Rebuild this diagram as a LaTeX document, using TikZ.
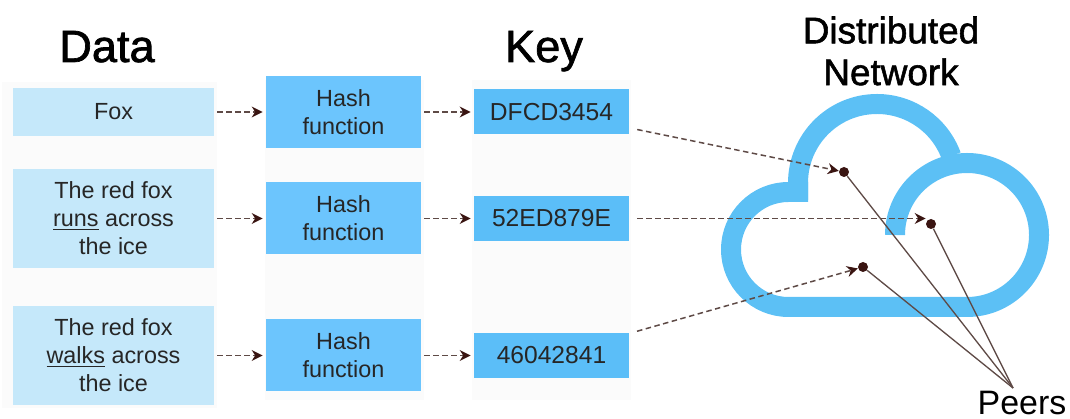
\documentclass[tikz,border=0pt]{standalone}
\usepackage{fontspec}
\setmainfont{Liberation Sans}
\newfontfamily\headfont[FakeBold=1.5]{Liberation Sans}
\usetikzlibrary{arrows.meta}
\definecolor{paleblue}{HTML}{C5E8FA}
\definecolor{hashblue}{HTML}{6CC5FD}
\definecolor{keyblue}{HTML}{5BBEF8}
\definecolor{cloudblue}{HTML}{5CC0F5}
\definecolor{backing}{HTML}{FBFBFB}
\definecolor{tipbrown}{HTML}{3A1512}
\definecolor{linebrown}{HTML}{5E4A46}
\tikzset{
    backbox/.style={fill=backing,minimum height=#1,minimum width=3.18cm,inner sep=0pt},
    databox/.style={fill=paleblue,minimum width=4.02cm,minimum height=#1,align=center,inner sep=0pt,text=black!85,font=\fontsize{13.3}{15.9}\selectfont},
    hashbox/.style={fill=hashblue,minimum width=3.1cm,minimum height=1.44cm,align=center,inner sep=0pt,text=black!85,font=\fontsize{13.3}{15.9}\selectfont},
    keybox/.style={fill=keyblue,minimum width=3.1cm,minimum height=.9cm,inner sep=0pt,text=black!85,font=\fontsize{14}{16}\selectfont},
    head/.style={font=\headfont\fontsize{25.7}{28}\selectfont,inner sep=0pt,anchor=base},
    flow/.style={draw=linebrown,line width=.85pt,dash pattern=on .11cm off .07cm,-{Stealth[length=.22cm,width=.22cm,color=tipbrown]}},
    peerdot/.style={circle,fill=tipbrown,minimum size=.2cm,inner sep=0pt},
    peerline/.style={draw=linebrown,line width=.75pt}
}
\begin{document}
\begin{tikzpicture}
    \useasboundingbox (0,0) rectangle (21.4,8.38);
    % faint columns behind the boxes
    \node[backbox=6.52cm,minimum width=4.3cm] (databack) at (2.19,3.48) {};
    \node[backbox=6.4cm] (hashback) at (6.89,3.58) {};
    \node[backbox=6.4cm] (keyback) at (11.03,3.58) {};

    \node[head] (datahead) at (2.14,7.14) {Data};
    \node[head] (keyhead) at (10.88,7.14) {Key};

    \node[databox=.96cm] (fox) at (2.27,6.14) {Fox};
    \node[databox=1.98cm] (runs) at (2.27,4.01) {The red fox\\\underline{runs} across\\the ice};
    \node[databox=1.98cm] (walks) at (2.27,1.27) {The red fox\\\underline{walks} across\\the ice};

    \node[hashbox] (hasha) at (6.87,6.14) {Hash\\function};
    \node[hashbox] (hashb) at (6.87,4.01) {Hash\\function};
    \node[hashbox] (hashc) at (6.87,1.27) {Hash\\function};

    \node[keybox] (keya) at (11.03,6.14) {DFCD3454};
    \node[keybox] (keyb) at (11.03,4.01) {52ED879E};
    \node[keybox] (keyc) at (11.03,1.27) {46042841};

    % cloud
    \draw[cloudblue,line width=.4cm] (17.9,3.68) arc[start angle=180,end angle=-90,radius=1.44cm]
        -- (15.77,2.24) arc[start angle=270,end angle=90,radius=1.15cm] -- (16.16,4.54);
    \draw[cloudblue,line width=.4cm] (15.96,4.38) -- (15.96,4.72)
        arc[start angle=180,end angle=20,radius=1.58cm];

    \node[inner sep=0pt,align=center,font=\headfont\fontsize{21}{23.8}\selectfont] (nethead) at (17.82,7.36) {Distributed\\Network};

    \node[peerdot] (peera) at (16.88,4.94) {};
    \node[peerdot] (peerb) at (18.62,3.9) {};
    \node[peerdot] (peerc) at (17.26,3.04) {};
    \coordinate (meet) at (20.26,.62);
    \node[inner sep=0pt,font=\fontsize{19.3}{22}\selectfont,anchor=base] (peers) at (20.44,.09) {Peers};

    \draw[flow,shorten <=.06cm,shorten >=.06cm] (fox) -- (hasha);
    \draw[flow,shorten <=.06cm,shorten >=.06cm] (runs) -- (hashb);
    \draw[flow,shorten <=.06cm,shorten >=.06cm] (walks) -- (hashc);
    \draw[flow,shorten <=.06cm,shorten >=.06cm] (hasha) -- (keya);
    \draw[flow,shorten <=.06cm,shorten >=.06cm] (hashb) -- (keyb);
    \draw[flow,shorten <=.06cm,shorten >=.06cm] (hashc) -- (keyc);
    \draw[flow,shorten <=.16cm] (keya) -- (peera);
    \draw[flow,shorten <=.16cm] (keyb) -- (peerb.west |- keyb);
    \draw[flow,shorten <=.16cm] (keyc) -- (peerc);

    \draw[peerline] (peera) -- (meet);
    \draw[peerline] (peerb) -- (meet);
    \draw[peerline] (peerc) -- (meet);
\end{tikzpicture}
\end{document}
